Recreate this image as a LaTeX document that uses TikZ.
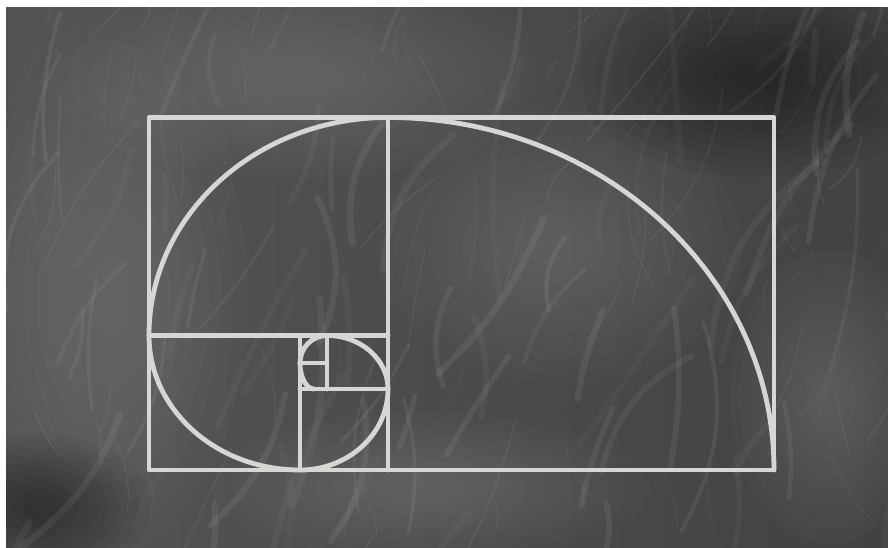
\documentclass[tikz,border=0pt]{standalone}
\usetikzlibrary{calc}
\definecolor{board}{RGB}{84,84,84}
\definecolor{boarddark}{RGB}{66,66,66}
\definecolor{boardlight}{RGB}{140,140,140}
\definecolor{chalk}{RGB}{214,214,210}
\tikzset{
  chalkline/.style={draw=chalk, line width=4.8pt, line cap=round, line join=round},
  streak/.style={draw=white, line cap=round},
}
\newcommand{\softblob}[5]{% x y rx ry colour
  \foreach \k in {1,...,10}{
    \pgfmathsetmacro{\sc}{1-\k*0.085}
    \fill[#5, opacity=0.045] (#1,#2) ellipse[x radius=#3*\sc, y radius=#4*\sc];
  }}
\begin{document}
\begin{tikzpicture}[x=1pt,y=1pt]
\useasboundingbox (0,0) rectangle (888,547);
\fill[white] (0,0) rectangle (888,547);
% board
\coordinate (bl) at (6,0);
\coordinate (tr) at (888,539);
\begin{scope}
\clip (bl) rectangle (tr);
\shade[left color=board, right color=boarddark] (bl) rectangle (tr);
\softblob{300}{470}{280}{110}{boardlight}
\softblob{110}{250}{150}{280}{boardlight}
\softblob{830}{150}{110}{160}{boardlight}
\softblob{430}{60}{240}{80}{boardlight}
\softblob{560}{300}{200}{150}{boardlight}
\softblob{760}{470}{200}{110}{black}
\softblob{40}{40}{120}{80}{black}
\pgfmathsetseed{12}
\foreach \i in {1,...,110}{
  \pgfmathsetmacro{\xa}{rnd*900}
  \pgfmathsetmacro{\ya}{rnd*560-40}
  \pgfmathsetmacro{\len}{40+rnd*180}
  \pgfmathsetmacro{\ang}{50+rnd*45}
  \pgfmathsetmacro{\bend}{-25+rnd*50}
  \pgfmathsetmacro{\op}{0.02+rnd*0.05}
  \pgfmathsetmacro{\lw}{1+rnd*6}
  \draw[streak, opacity=\op, line width=\lw pt] (\xa,\ya) to[bend left=\bend] ++(\ang:\len);
}
\foreach \i in {1,...,50}{
  \pgfmathsetmacro{\xa}{rnd*900}
  \pgfmathsetmacro{\ya}{rnd*560-40}
  \pgfmathsetmacro{\len}{20+rnd*90}
  \pgfmathsetmacro{\ang}{40+rnd*80}
  \pgfmathsetmacro{\bend}{-20+rnd*40}
  \pgfmathsetmacro{\op}{0.05+rnd*0.08}
  \draw[streak, opacity=\op, line width=0.6pt] (\xa,\ya) to[bend left=\bend] ++(\ang:\len);
}
\end{scope}
% golden rectangle frame
\coordinate (A) at (149,429.5);
\coordinate (B) at (774,77);
\coordinate (M) at (388,429.5);
\coordinate (Mb) at (388,77);
\draw[chalkline] (A) rectangle (B);
\draw[chalkline] (M) -- (Mb);
\draw[chalkline] (149,211.5) -- (388,211.5);
\draw[chalkline] (300,211.5) -- (300,77);
\draw[chalkline] (300,158) -- (388,158);
\draw[chalkline] (327,211.5) -- (327,158);
\draw[chalkline] (300,184) -- (327,184);
% spiral
\draw[chalkline]
  (M) arc[start angle=90, end angle=0, x radius=386, y radius=352.5];
\draw[chalkline]
  (M) arc[start angle=90, end angle=180, x radius=239, y radius=218]
      arc[start angle=180, end angle=270, x radius=151, y radius=134.5]
      arc[start angle=270, end angle=360, x radius=88, y radius=81]
      arc[start angle=0, end angle=90, x radius=61, y radius=53.5]
      arc[start angle=90, end angle=180, x radius=27, y radius=27.5]
      arc[start angle=180, end angle=270, x radius=14, y radius=26];
\end{tikzpicture}
\end{document}
